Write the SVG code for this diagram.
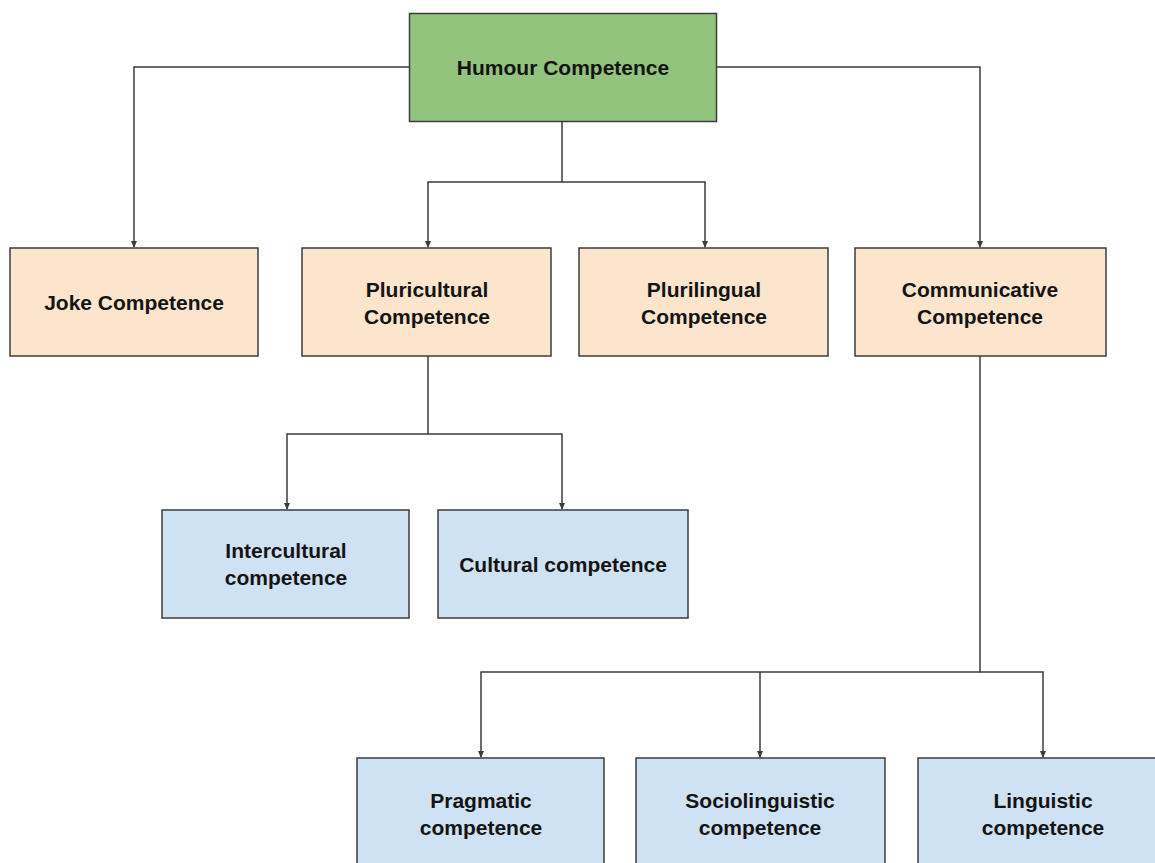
<svg xmlns="http://www.w3.org/2000/svg" width="1155" height="863" viewBox="0 0 1155 863">
<style>
.box{stroke:#3c3c3c;stroke-width:1.5}
.g{fill:#93c47d}
.o{fill:#fce5cd}
.b{fill:#cfe2f3}
.t{font-family:"Liberation Sans",Arial,sans-serif;font-weight:bold;font-size:21px;fill:#141414;text-anchor:middle}
.c{fill:none;stroke:#3c3c3c;stroke-width:1.5}
</style>
<defs>
<marker id="ah" markerWidth="8" markerHeight="8" refX="6" refY="4" orient="auto" markerUnits="userSpaceOnUse">
<path d="M0,1 L7,4 L0,7 Z" fill="#3c3c3c"/>
</marker>
</defs>
<rect width="1155" height="863" fill="#ffffff"/>
<g id="connectors">
<path class="c" d="M409,67 H134 V247" marker-end="url(#ah)"/>
<path class="c" d="M716,67 H980 V247" marker-end="url(#ah)"/>
<path class="c" d="M562,121 V182 H428 V247" marker-end="url(#ah)"/>
<path class="c" d="M562,182 H705 V247" marker-end="url(#ah)"/>
<path class="c" d="M428,356 V434 H287 V509" marker-end="url(#ah)"/>
<path class="c" d="M428,434 H562 V509" marker-end="url(#ah)"/>
<path class="c" d="M980,356 V672 H481 V757" marker-end="url(#ah)"/>
<path class="c" d="M760,672 V757" marker-end="url(#ah)"/>
<path class="c" d="M980,672 H1043 V757" marker-end="url(#ah)"/>
</g>
<g id="humour">
<rect class="box g" x="409.5" y="13.5" width="307" height="108"/>
<text class="t" x="563" y="75">Humour Competence</text>
</g>
<g id="joke">
<rect class="box o" x="10" y="248" width="248" height="108"/>
<text class="t" x="134" y="310">Joke Competence</text>
</g>
<g id="pluricultural">
<rect class="box o" x="302" y="248" width="249" height="108"/>
<text class="t" x="427" y="297">Pluricultural</text>
<text class="t" x="427" y="324">Competence</text>
</g>
<g id="plurilingual">
<rect class="box o" x="579" y="248" width="249" height="108"/>
<text class="t" x="704" y="297">Plurilingual</text>
<text class="t" x="704" y="324">Competence</text>
</g>
<g id="communicative">
<rect class="box o" x="855" y="248" width="251" height="108"/>
<text class="t" x="980" y="297">Communicative</text>
<text class="t" x="980" y="324">Competence</text>
</g>
<g id="intercultural">
<rect class="box b" x="162" y="510" width="247" height="108"/>
<text class="t" x="286" y="558">Intercultural</text>
<text class="t" x="286" y="585">competence</text>
</g>
<g id="cultural">
<rect class="box b" x="438" y="510" width="250" height="108"/>
<text class="t" x="563" y="572">Cultural competence</text>
</g>
<g id="pragmatic">
<rect class="box b" x="357" y="758" width="247" height="110"/>
<text class="t" x="481" y="808">Pragmatic</text>
<text class="t" x="481" y="835">competence</text>
</g>
<g id="sociolinguistic">
<rect class="box b" x="636" y="758" width="249" height="110"/>
<text class="t" x="760" y="808">Sociolinguistic</text>
<text class="t" x="760" y="835">competence</text>
</g>
<g id="linguistic">
<rect class="box b" x="918" y="758" width="247" height="110"/>
<text class="t" x="1043" y="808">Linguistic</text>
<text class="t" x="1043" y="835">competence</text>
</g>
</svg>
